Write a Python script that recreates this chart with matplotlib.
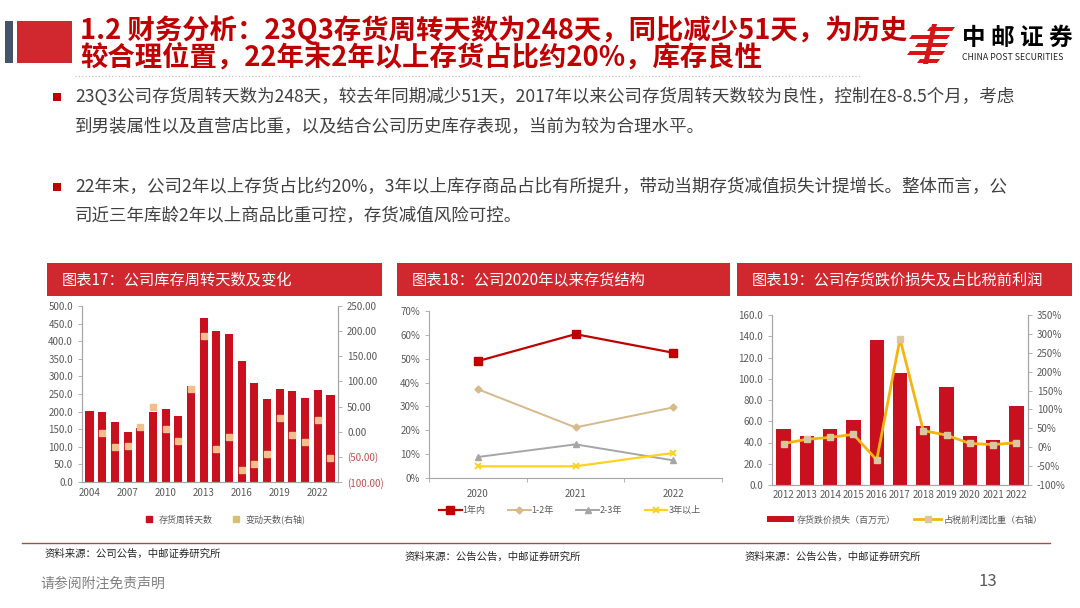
import numpy as np
import matplotlib
matplotlib.use("Agg")
import matplotlib.pyplot as plt
from matplotlib.patches import Rectangle, Polygon
from matplotlib.lines import Line2D
from matplotlib.ticker import FuncFormatter, MultipleLocator

plt.rcParams['font.family'] = ['Noto Sans CJK SC', 'DejaVu Sans']
plt.rcParams['axes.unicode_minus'] = False

W, H = 1080, 608

# chart 17: inventory turnover days and yoy change
years17 = list(range(2004, 2024))
turn_days = [202, 200, 170, 142, 152, 200, 207, 188, 274, 465,
             430, 420, 343, 282, 236, 265, 258, 238, 260, 248]
chg_days = [np.nan, -2, -30, -28, 9, 49, 5, -19, 85, 191,
            -35, -10, -77, -64, -45, 27, -7, -20, 24, -52]

# chart 18: inventory age structure
years18 = ["2020", "2021", "2022"]
age_lt1 = [0.49, 0.603, 0.525]
age_1_2 = [0.372, 0.212, 0.296]
age_2_3 = [0.088, 0.141, 0.074]
age_gt3 = [0.049, 0.049, 0.105]

# chart 19: inventory impairment and share of pre-tax profit
years19 = [str(y) for y in range(2012, 2023)]
impair = [53.0, 46.4, 52.7, 60.9, 136.2, 105.1, 55.2, 92.5, 45.8, 42.4, 74.4]
impair_pct = [0.097, 0.21, 0.26, 0.34, -0.34, 2.87, 0.44, 0.32, 0.10, 0.07, 0.12]

RED = "#C00000"
BAR_RED = "#C8101E"
HDR_RED = "#D0282E"
GREY = "#595959"
AX_GREY = "#A6A6A6"


def px_axes(x0, y0, x1, y1):
    return fig.add_axes([x0 / W, 1 - y1 / H, (x1 - x0) / W, (y1 - y0) / H])


def px_rect(x0, y0, x1, y1, color, **kw):
    fig.patches.append(Rectangle((x0 / W, 1 - y1 / H), (x1 - x0) / W, (y1 - y0) / H,
                                 transform=fig.transFigure, facecolor=color,
                                 edgecolor="none", **kw))


def px_text(x, y, s, **kw):
    fig.text(x / W, 1 - y / H, s, **kw)


def style_axes(ax, right=False):
    for sp in ["top"] + ([] if right else ["right"]):
        ax.spines[sp].set_visible(False)
    for sp in ax.spines.values():
        sp.set_color(AX_GREY)
        sp.set_linewidth(0.8)
    ax.tick_params(colors=AX_GREY, labelcolor=GREY, labelsize=7, length=3, width=0.6)


fig = plt.figure(figsize=(W / 100, H / 100), dpi=100)
fig.patch.set_facecolor("white")

# ---- header ----
px_rect(5, 21, 13, 63, "#44546A")
px_rect(17, 21, 72, 63, HDR_RED)
px_text(80, 30, "1.2 财务分析：23Q3存货周转天数为248天，同比减少51天，为历史",
        fontsize=19.7, fontweight="bold", color=RED, va="center", ha="left")
px_text(80, 58, "较合理位置，22年末2年以上存货占比约20%，库存良性",
        fontsize=19.7, fontweight="bold", color=RED, va="center", ha="left")
fig.add_artist(Line2D([75 / W, 860 / W], [1 - 76 / H, 1 - 76 / H], transform=fig.transFigure,
                      color="#BFBFBF", lw=0.8, ls=(0, (1, 2))))

# logo
logo_red = "#D7141A"
for dy, x0, x1 in [(0, 930, 955), (8, 912, 950), (16, 918, 948), (24, 910, 945), (32, 920, 940)]:
    y = 27 + dy
    pts = [(x0, y), (x1, y), (x1 - 3, y + 4), (x0 - 3, y + 4)]
    fig.patches.append(Polygon([(px / W, 1 - py / H) for px, py in pts], closed=True,
                               transform=fig.transFigure, facecolor=logo_red, edgecolor="none"))
fig.patches.append(Polygon([(p[0] / W, 1 - p[1] / H) for p in [(932, 24), (937, 24), (928, 64), (923, 64)]],
                           closed=True, transform=fig.transFigure, facecolor=logo_red, edgecolor="none"))
px_text(962, 38, "中 邮 证 券", fontsize=17, fontweight="bold", color="black", va="center", ha="left")
px_text(962, 57, "CHINA POST SECURITIES", fontsize=6.3, color="#222222", va="center", ha="left")

# ---- bullet text ----
body_kw = dict(fontsize=12.6, color="#404040", va="center", ha="left")
px_rect(53, 93, 61, 101, RED)
px_text(75, 97, "23Q3公司存货周转天数为248天，较去年同期减少51天，2017年以来公司存货周转天数较为良性，控制在8-8.5个月，考虑", **body_kw)
px_text(75, 127, "到男装属性以及直营店比重，以及结合公司历史库存表现，当前为较为合理水平。", **body_kw)
px_rect(53, 183, 61, 191, RED)
px_text(75, 187, "22年末，公司2年以上存货占比约20%，3年以上库存商品占比有所提升，带动当期存货减值损失计提增长。整体而言，公", **body_kw)
px_text(75, 216, "司近三年库龄2年以上商品比重可控，存货减值风险可控。", **body_kw)

# ---- chart title bars ----
for (x0, x1, label) in [(47, 382, "图表17：公司库存周转天数及变化"),
                        (397, 730, "图表18：公司2020年以来存货结构"),
                        (737, 1072, "图表19：公司存货跌价损失及占比税前利润")]:
    px_rect(x0, 263, x1, 296, HDR_RED)
    px_text(x0 + 15, 280, label, fontsize=11, color="white", va="center", ha="left")

# ---- chart 17 ----
ax1 = px_axes(82, 306, 338, 482)
x1 = np.arange(len(years17))
ax1.bar(x1, turn_days, width=0.65, color=BAR_RED, zorder=2)
ax1.set_ylim(0, 500)
ax1.set_xlim(-0.6, len(years17) - 0.4)
ax1.yaxis.set_major_locator(MultipleLocator(50))
ax1.yaxis.set_major_formatter(FuncFormatter(lambda v, p: f"{v:.1f}"))
ax1.set_xticks(x1[::3])
ax1.set_xticklabels([str(y) for y in years17[::3]])
style_axes(ax1, right=True)
ax1.tick_params(axis="x", length=0, pad=4)
ax1b = ax1.twinx()
ax1b.plot(x1, chg_days, ls="none", marker="s", ms=4.2, color="#F2BE8C", zorder=3)
ax1b.set_ylim(-100, 250)
ax1b.yaxis.set_major_locator(MultipleLocator(50))
ax1b.yaxis.set_major_formatter(FuncFormatter(lambda v, p: f"({abs(v):.2f})" if v < 0 else f"{v:.2f}"))
style_axes(ax1b, right=True)
for t, v in zip(ax1b.get_yticklabels(), ax1b.get_yticks()):
    if v < 0:
        t.set_color("#C0504D")
ax1.legend(handles=[Line2D([], [], ls="none", marker="s", ms=4, color=BAR_RED, label="存货周转天数"),
                    Line2D([], [], ls="none", marker="s", ms=4, color="#D8C070", label="变动天数(右轴)")],
           loc="upper center", bbox_to_anchor=(0.55, -0.14), ncol=2, frameon=False,
           fontsize=6.5, handletextpad=0.1, columnspacing=1.5, labelcolor=GREY)

# ---- chart 18 ----
ax2 = px_axes(429, 311, 722, 478)
x2 = np.arange(len(years18)) + 0.5
ax2.plot(x2, age_lt1, color=RED, lw=1.6, marker="s", ms=6, label="1年内")
ax2.plot(x2, age_1_2, color="#D6B98C", lw=1.4, marker="D", ms=3.5, label="1-2年")
ax2.plot(x2, age_2_3, color=AX_GREY, lw=1.4, marker="^", ms=5, label="2-3年")
ax2.plot(x2, age_gt3, color="#FFD21F", lw=1.6, marker="x", ms=5, mew=1.4, label="3年以上")
ax2.set_xlim(0, 3)
ax2.set_ylim(0, 0.7)
ax2.yaxis.set_major_locator(MultipleLocator(0.1))
ax2.yaxis.set_major_formatter(FuncFormatter(lambda v, p: f"{v * 100:.0f}%"))
ax2.set_xticks(x2)
ax2.set_xticklabels(years18)
ax2.set_xticks([0, 1, 2, 3], minor=True)
style_axes(ax2)
ax2.tick_params(axis="x", which="major", length=0, pad=8)
ax2.tick_params(axis="x", which="minor", length=3, color=AX_GREY)
ax2.legend(loc="upper center", bbox_to_anchor=(0.48, -0.12), ncol=4, frameon=False,
           fontsize=6.5, handlelength=2.5, handletextpad=0.1, columnspacing=2.5, labelcolor=GREY)

# ---- chart 19 ----
ax3 = px_axes(772, 315, 1028, 485)
x3 = np.arange(len(years19))
ax3.bar(x3, impair, width=0.62, color=BAR_RED, zorder=2, label="存货跌价损失（百万元）")
ax3.set_ylim(0, 160)
ax3.set_xlim(-0.5, len(years19) - 0.5)
ax3.yaxis.set_major_locator(MultipleLocator(20))
ax3.yaxis.set_major_formatter(FuncFormatter(lambda v, p: f"{v:.1f}"))
ax3.set_xticks(x3)
ax3.set_xticklabels(years19)
style_axes(ax3, right=True)
ax3.tick_params(axis="x", length=0, labelsize=7)
ax3b = ax3.twinx()
ax3b.plot(x3, impair_pct, color="#F5B511", lw=2, marker="s", ms=4,
          mfc="#D9C7A4", mec="#D9C7A4", zorder=3, label="占税前利润比重（右轴）")
ax3b.set_ylim(-1.0, 3.5)
ax3b.yaxis.set_major_locator(MultipleLocator(0.5))
ax3b.yaxis.set_major_formatter(FuncFormatter(lambda v, p: f"{v * 100:.0f}%"))
style_axes(ax3b, right=True)
h1, l1 = ax3.get_legend_handles_labels()
h2, l2 = ax3b.get_legend_handles_labels()
ax3.legend(h1 + h2, l1 + l2, loc="upper center", bbox_to_anchor=(0.52, -0.13), ncol=2,
           frameon=False, fontsize=6.5, handlelength=3, handletextpad=0.3, columnspacing=2,
           labelcolor=GREY)

# ---- footer ----
fig.add_artist(Line2D([22 / W, 1050 / W], [1 - 543 / H, 1 - 543 / H], transform=fig.transFigure,
                      color="#A0504A", lw=1))
src_kw = dict(fontsize=7.5, color="#262626", va="center", ha="left")
px_text(45, 554, "资料来源：公司公告，中邮证券研究所", **src_kw)
px_text(405, 557, "资料来源：公告公告，中邮证券研究所", **src_kw)
px_text(745, 557, "资料来源：公告公告，中邮证券研究所", **src_kw)
px_text(40, 584, "请参阅附注免责声明", fontsize=10, color="#7F7F7F", va="center", ha="left")
px_text(988, 582, "13", fontsize=12, color="#595959", va="center", ha="center")

fig.savefig("out.png", dpi=100)
